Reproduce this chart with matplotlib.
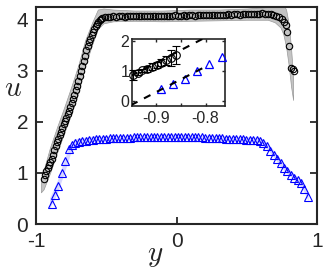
import numpy as np
import matplotlib
matplotlib.use('Agg')
import matplotlib.pyplot as plt

plt.rcParams['font.family'] = ['Liberation Sans', 'DejaVu Sans']
plt.rcParams['mathtext.fontset'] = 'cm'

# --- black circles: near-wall rise (dense) + core (coarser) + far-wall points ---
black_rise_u = [0.88, 0.96, 1.03, 1.09, 1.15, 1.21, 1.28, 1.36, 1.44, 1.53,
                1.60, 1.67, 1.74, 1.81, 1.88, 1.95, 2.02, 2.08, 2.15, 2.22,
                2.29, 2.37, 2.45, 2.53, 2.62, 2.71, 2.80, 2.90, 3.00, 3.10,
                3.20, 3.30, 3.40, 3.48, 3.56, 3.63, 3.70, 3.76, 3.82, 3.87,
                3.92, 3.96, 3.99, 4.02, 4.04]
black_rise_y = np.linspace(-0.946, -0.528, len(black_rise_u))

black_core_u = [4.05, 4.06, 4.06, 4.07, 4.06, 4.07, 4.07, 4.06, 4.07, 4.07,
                4.08, 4.07, 4.07, 4.08, 4.07, 4.07, 4.08, 4.08, 4.07, 4.08,
                4.08, 4.07, 4.08, 4.08, 4.08, 4.09, 4.08, 4.08, 4.09, 4.08,
                4.09, 4.09, 4.08, 4.09, 4.09, 4.10, 4.09, 4.09, 4.10, 4.10,
                4.09, 4.10, 4.10, 4.10, 4.11, 4.10, 4.11, 4.11, 4.10, 4.11,
                4.12, 4.11, 4.12, 4.12, 4.12, 4.12, 4.13, 4.12, 4.12, 4.11,
                4.10, 4.08, 4.05, 4.02]
black_core_y = np.linspace(-0.51, 0.75, len(black_core_u))

black_end_y = [0.764, 0.776, 0.788, 0.800, 0.812, 0.826, 0.835]
black_end_u = [3.96, 3.90, 3.76, 3.48, 3.06, 3.03, 3.00]

black_y = np.concatenate([black_rise_y, black_core_y, black_end_y])
black_u = np.concatenate([black_rise_u, black_core_u, black_end_u])

# grey spread around black profile
band_y = [-0.965, -0.946, -0.9, -0.85, -0.8, -0.75, -0.7, -0.65, -0.6, -0.56,
          -0.52, -0.45, -0.3, -0.1, 0.1, 0.3, 0.5, 0.65, 0.70, 0.74, 0.76,
          0.78, 0.80, 0.815, 0.83]
band_lo = [0.62, 0.68, 1.00, 1.40, 1.78, 2.15, 2.55, 3.10, 3.52, 3.82,
           3.93, 3.97, 3.98, 3.97, 3.98, 3.99, 4.00, 4.00, 3.95, 3.85,
           3.72, 3.47, 3.08, 2.70, 2.43]
band_hi = [0.85, 1.05, 1.50, 1.90, 2.28, 2.68, 3.10, 3.60, 3.95, 4.20,
           4.22, 4.20, 4.18, 4.18, 4.20, 4.20, 4.22, 4.25, 4.28, 4.32,
           4.30, 4.20, 3.90, 3.45, 2.90]

# --- blue triangles ---
blue_u = [0.40, 0.57, 0.75, 1.00, 1.24, 1.46, 1.55, 1.59, 1.61, 1.62,
          1.63, 1.64, 1.65, 1.66, 1.66, 1.67, 1.67, 1.68, 1.68, 1.68,
          1.69, 1.69, 1.69, 1.69, 1.70, 1.70, 1.70, 1.70, 1.70, 1.71,
          1.71, 1.71, 1.71, 1.71, 1.71, 1.71, 1.71, 1.71, 1.71, 1.71,
          1.70, 1.70, 1.70, 1.70, 1.70, 1.69, 1.69, 1.69, 1.68, 1.68,
          1.68, 1.67, 1.67, 1.67, 1.66, 1.66, 1.66, 1.65, 1.65, 1.64,
          1.64, 1.63, 1.58, 1.52, 1.43, 1.35, 1.27, 1.19, 1.10, 1.03,
          0.96, 0.90, 0.86, 0.80, 0.69, 0.52]
blue_y = np.linspace(-0.8895, 0.935, len(blue_u))

bband_y = [-0.9, -0.87, -0.84, -0.81, -0.78, -0.75, -0.72, -0.6, 0.0, 0.6,
           0.65, 0.70, 0.75, 0.80, 0.85, 0.90, 0.94]
bband_lo = [0.30, 0.45, 0.63, 0.88, 1.12, 1.38, 1.50, 1.60, 1.66, 1.58,
            1.45, 1.28, 1.10, 0.95, 0.84, 0.68, 0.45]
bband_hi = [0.50, 0.68, 0.88, 1.13, 1.37, 1.60, 1.66, 1.71, 1.76, 1.69,
            1.58, 1.42, 1.24, 1.08, 0.95, 0.82, 0.60]

# --- inset: near-wall zoom ---
inset_n_black = 10
inset_err = [0.17, 0.08, 0.06, 0.10, 0.12, 0.10, 0.12, 0.15, 0.25, 0.30]
inset_n_blue = 6
fit_y = [-0.95, -0.80]
fit_black_u = [0.85, 2.125]
fit_blue_u = [-0.12, 1.156]
fit_blue_y = [-0.95, -0.80]

ink = '#262626'

fig = plt.figure(figsize=(3.26, 2.72), dpi=100)
ax = fig.add_axes([36/326, 1 - 224/272, 281/326, 217/272])

ax.fill_between(band_y, band_lo, band_hi, facecolor='#c4c4c4',
                edgecolor='#9a9a9a', linewidth=0.5, zorder=1)
ax.fill_between(bband_y, bband_lo, bband_hi, facecolor='#8c8cff',
                alpha=0.35, linewidth=0, zorder=1)
ax.plot(black_y, black_u, 'o', mfc='none', mec='k', ms=4.6, mew=0.8, zorder=3)
ax.plot(blue_y, blue_u, '^', mfc='none', mec='b', ms=5.5, mew=0.8, zorder=3)

ax.set_xlim(-1, 1)
ax.set_ylim(0, 4.25)
ax.set_xticks([-1, 0, 1])
ax.set_xticklabels(['-1', '0', '1'])
ax.set_yticks([0, 1, 2, 3, 4])
ax.tick_params(direction='in', length=5, width=1.3, labelsize=15, colors=ink,
               top=True, right=True)
ax.tick_params(axis='x', pad=5.5)
ax.tick_params(axis='y', pad=5.5)
for s in ax.spines.values():
    s.set_linewidth(1.5)
    s.set_color(ink)

fig.text(13/326, 1 - 88/272, '$u$', fontsize=21, ha='center', va='center', color=ink)
fig.text(155/326, 1 - 255/272, '$y$', fontsize=21, ha='center', va='center', color=ink)

# inset
axi = fig.add_axes([132/326, 1 - 106/272, 93/326, 67.3/272])
axi.plot(fit_y, fit_black_u, color='k', lw=1.5, ls=(0, (3.5, 3.5)), zorder=4)
axi.plot(fit_blue_y, fit_blue_u, color='k', lw=1.5, ls=(0, (3.5, 3.5)), zorder=4)
axi.errorbar(black_y[:inset_n_black], black_u[:inset_n_black], yerr=inset_err,
             fmt='o', mfc='none', mec='k', ms=5.5, mew=0.8, ecolor='k',
             elinewidth=0.8, capsize=3, capthick=0.8, zorder=3, clip_on=False)
axi.plot(blue_y[:inset_n_blue], blue_u[:inset_n_blue], '^', mfc='none', mec='b',
         ms=6, mew=0.9, zorder=3, clip_on=False)
axi.set_xlim(-0.948, -0.761)
axi.set_ylim(-0.15, 2.08)
axi.set_xticks([-0.9, -0.85, -0.8])
axi.set_xticklabels(['-0.9', '', '-0.8'])
axi.set_yticks([0, 1, 2])
axi.tick_params(direction='in', length=2.5, width=1.0, labelsize=11.5, colors=ink,
                top=True, right=True)
axi.tick_params(axis='x', pad=3.5)
axi.tick_params(axis='y', pad=2)
for s in axi.spines.values():
    s.set_linewidth(1.2)
    s.set_color(ink)

fig.savefig('out.png', dpi=100)
